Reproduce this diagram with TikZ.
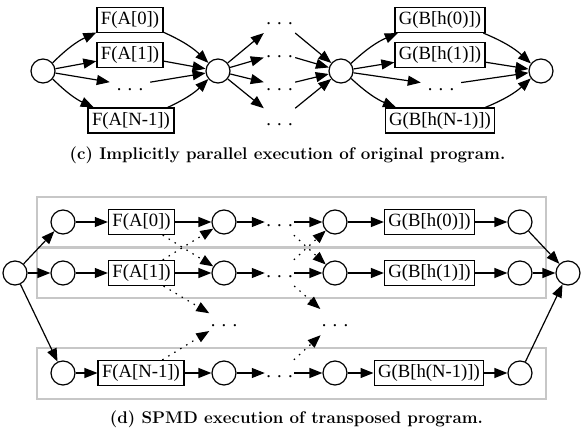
\documentclass[tikz,border=0pt]{standalone}
\usepackage{fontspec}
\newfontfamily\nodefont{Liberation Serif}
\usetikzlibrary{arrows.meta}
\begin{document}
\begin{tikzpicture}[x=1pt,y=-1pt,
  every node/.style={font=\nodefont\fontsize{18.7}{22}\selectfont},
  circ/.style={circle,draw,line width=1.2pt,minimum size=24pt,inner sep=0pt},
  fbox/.style={rectangle,draw,line width=1.2pt,minimum height=25pt,inner xsep=4pt,inner ysep=0pt,text height=13.5pt,text depth=4.5pt},
  dotn/.style={rectangle,minimum width=31pt,minimum height=26pt,inner sep=0pt,text height=13.5pt,text depth=4.5pt},
  wdotn/.style={dotn,minimum width=40pt},
  arr/.style={line width=1.2pt,-{Triangle[length=13pt,width=10pt]}},
  dotarr/.style={arr,dash pattern=on 1.5pt off 5.5pt},
  lane/.style={draw=black!22,line width=1.5pt},
  caption/.style={font=\bfseries\fontsize{16.9}{20}\selectfont}
]
\useasboundingbox (0,0) rectangle (582,431);

% ---------- (c) ----------
\node[circ] (L) at (43,71) {};
\node[fbox] (F0) at (130,20) {F(A[0])};
\node[fbox] (F1) at (130,55) {F(A[1])};
\node[wdotn] (Fd) at (130,85.5) {. . .};
\node[fbox] (FN) at (131,120.5) {F(A[N-1])};
\node[circ] (M) at (218,71) {};
\node[dotn] (d1) at (279.5,20) {. . .};
\node[dotn] (d2) at (279.5,53) {. . .};
\node[dotn] (d3) at (279.5,86) {. . .};
\node[dotn] (d4) at (279.5,121) {. . .};
\node[circ] (M2) at (341,71) {};
\node[fbox] (G0) at (440,20) {G(B[h(0)])};
\node[fbox] (G1) at (440,55) {G(B[h(1)])};
\node[wdotn] (Gd) at (441,85.5) {. . .};
\node[fbox] (GN) at (440,120.5) {G(B[h(N-1)])};
\node[circ] (R) at (541,71) {};

\draw[arr] (L) to[bend left=10] (F0);
\draw[arr] (L) -- (F1);
\draw[arr] (L) -- (Fd);
\draw[arr] (L) to[bend right=10] (FN);
\draw[arr] (F0) to[bend left=10] (M);
\draw[arr] (F1) -- (M);
\draw[arr] (Fd) -- (M);
\draw[arr] (FN) to[bend right=10] (M);
\foreach \d in {d1,d2,d3,d4}{
  \draw[arr] (M) -- (\d);
  \draw[arr] (\d) -- (M2);
}
\draw[arr] (M2) to[bend left=10] (G0);
\draw[arr] (M2) -- (G1);
\draw[arr] (M2) -- (Gd);
\draw[arr] (M2) to[bend right=10] (GN);
\draw[arr] (G0) to[bend left=10] (R);
\draw[arr] (G1) -- (R);
\draw[arr] (Gd) -- (R);
\draw[arr] (GN) to[bend right=10] (R);

\node[caption] (capc) at (287.5,155) {(c) Implicitly parallel execution of original program.};

% ---------- (d) ----------
\draw[lane] (37,197) rectangle (546,247);
\draw[lane] (37,248) rectangle (546,298);
\draw[lane] (37,348) rectangle (546,399);

\node[circ] (Ls) at (15,273) {};
\node[circ] (Rs) at (568,273) {};

\node[circ] (a1) at (63,222) {};
\node[fbox] (FA0) at (141.5,222) {F(A[0])};
\node[circ] (b1) at (224,222) {};
\node[dotn,minimum width=29pt] (e1) at (279.5,222) {. . .};
\node[circ] (c1) at (335,222) {};
\node[fbox] (GB0) at (429.5,222) {G(B[h(0)])};
\node[circ] (g1) at (520,222) {};

\node[circ] (a2) at (63,273) {};
\node[fbox] (FA1) at (141.5,273) {F(A[1])};
\node[circ] (b2) at (224,273) {};
\node[dotn,minimum width=29pt] (e2) at (279.5,273) {. . .};
\node[circ] (c2) at (335,273) {};
\node[fbox] (GB1) at (429.5,273) {G(B[h(1)])};
\node[circ] (g2) at (520,273) {};

\node[circ] (a3) at (63,373) {};
\node[fbox] (FAN) at (141,373) {F(A[N-1])};
\node[circ] (b3) at (224,373) {};
\node[dotn,minimum width=29pt] (e3) at (279.5,373) {. . .};
\node[circ] (c3) at (335,373) {};
\node[fbox] (GBN) at (429,373) {G(B[h(N-1)])};
\node[circ] (g3) at (520,373) {};

\node[dotn,minimum width=29pt] (m1) at (224,322) {. . .};
\node[dotn,minimum width=29pt] (m2) at (335,322) {. . .};

\draw[arr] (Ls) -- (a1);
\draw[arr] (Ls) -- (a2);
\draw[arr] (Ls) -- (a3);
\draw[arr] (a1) -- (FA0);
\draw[arr] (FA0) -- (b1);
\draw[arr] (b1) -- (e1);
\draw[arr] (e1) -- (c1);
\draw[arr] (c1) -- (GB0);
\draw[arr] (GB0) -- (g1);
\draw[arr] (a2) -- (FA1);
\draw[arr] (FA1) -- (b2);
\draw[arr] (b2) -- (e2);
\draw[arr] (e2) -- (c2);
\draw[arr] (c2) -- (GB1);
\draw[arr] (GB1) -- (g2);
\draw[arr] (a3) -- (FAN);
\draw[arr] (FAN) -- (b3);
\draw[arr] (b3) -- (e3);
\draw[arr] (e3) -- (c3);
\draw[arr] (c3) -- (GBN);
\draw[arr] (GBN) -- (g3);
\draw[arr] (g1) -- (Rs);
\draw[arr] (g2) -- (Rs);
\draw[arr] (g3) -- (Rs);

\draw[dotarr] (FA0) -- (b2);
\draw[dotarr] (FA1) -- (b1);
\draw[dotarr] (FA1) -- (m1);
\draw[dotarr] (FAN) -- (m1);
\draw[dotarr] (e1) -- (c2);
\draw[dotarr] (e2) -- (c1);
\draw[dotarr] (e2) -- (m2);
\draw[dotarr] (e3) -- (m2);

\node[caption] (capd) at (296.5,419) {(d) SPMD execution of transposed program.};
\end{tikzpicture}
\end{document}
